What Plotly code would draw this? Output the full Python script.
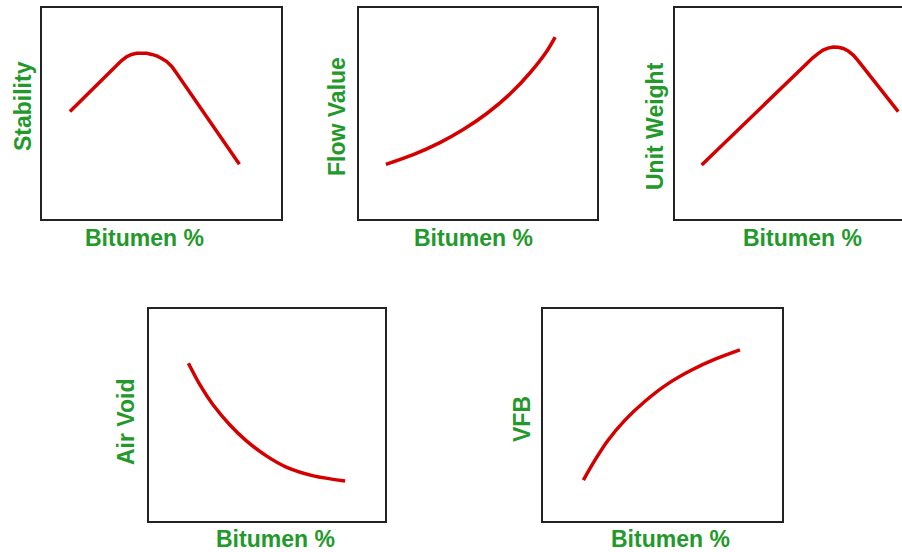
import plotly.graph_objects as go

W, H = 902, 552

# ---- data (relative units; 0-10 across each panel box) ----
stab_x = [1.17, 3.12, 3.33, 3.54, 3.75, 3.96, 4.17, 4.38, 4.59, 4.80, 5.01, 5.22, 5.43, 5.64, 8.26]
stab_y = [5.09, 7.30, 7.51, 7.69, 7.80, 7.85, 7.87, 7.85, 7.80, 7.73, 7.61, 7.46, 7.23, 6.90, 2.59]

flow_x = [1.13, 2.28, 3.40, 4.38, 5.37, 6.34, 7.18, 7.89, 8.24]
flow_y = [2.59, 3.05, 3.62, 4.24, 5.00, 5.92, 6.92, 7.95, 8.62]

unit_x = [1.12, 5.59, 5.80, 6.01, 6.22, 6.43, 6.64, 6.86, 7.07, 7.28, 7.49, 7.70, 9.38]
unit_y = [2.56, 7.44, 7.65, 7.84, 8.01, 8.10, 8.15, 8.14, 8.08, 7.96, 7.77, 7.49, 5.09]

air_x = [1.67, 2.16, 2.72, 3.43, 4.14, 4.99, 5.84, 6.97, 8.31]
air_y = [7.44, 6.42, 5.47, 4.53, 3.77, 3.06, 2.53, 2.13, 1.89]

vfb_x = [1.69, 2.18, 2.73, 3.43, 4.27, 5.25, 6.22, 7.20, 8.24]
vfb_y = [1.93, 2.88, 3.82, 4.76, 5.65, 6.49, 7.12, 7.63, 8.07]

y_titles = ["Stability", "Flow Value", "Unit Weight", "Air Void", "VFB"]
x_title = "Bitumen %"

GREEN = "#22992a"
RED = "#d40000"
FONT = "Liberation Sans, Arial, sans-serif"

# panel boxes in pixels: (left, right, top, bottom)
boxes = [(42, 281, 8, 219), (359, 597, 8, 219), (675, 913, 8, 219),
         (149, 385, 309, 521), (543, 782, 309, 521)]
series = [(stab_x, stab_y, "linear"), (flow_x, flow_y, "spline"),
          (unit_x, unit_y, "linear"), (air_x, air_y, "spline"),
          (vfb_x, vfb_y, "spline")]
xlab_pos = [(144, 238), (473, 238), (802, 238), (275, 539), (670, 539)]
ylab_pos = [(23, 106), (337, 117), (655, 126), (126, 422), (522, 419)]

fig = go.Figure()
layout = dict(width=W, height=H, margin=dict(l=0, r=0, t=0, b=0),
              paper_bgcolor="white", plot_bgcolor="white", showlegend=False)
annotations = []
for i, ((l, r, t, b), (xs, ys, shp)) in enumerate(zip(boxes, series)):
    n = "" if i == 0 else str(i + 1)
    rr = min(r, W)
    xmax = 10 * (rr - l) / (r - l)
    line = dict(color=RED, width=3.5, shape=shp)
    if shp == "spline":
        line["smoothing"] = 0.9
    fig.add_trace(go.Scatter(x=xs, y=ys, mode="lines", line=line,
                             xaxis="x" + n, yaxis="y" + n, hoverinfo="skip"))
    layout["xaxis" + n] = dict(domain=[l / W, rr / W], range=[0, xmax],
                               anchor="y" + n, showline=True, mirror=True,
                               linecolor="#222", linewidth=2, showgrid=False,
                               zeroline=False, showticklabels=False, ticks="")
    layout["yaxis" + n] = dict(domain=[1 - b / H, 1 - t / H], range=[0, 10],
                               anchor="x" + n, showline=True,
                               mirror=(r <= W), linecolor="#222", linewidth=2,
                               showgrid=False, zeroline=False,
                               showticklabels=False, ticks="")
    xl, yl = xlab_pos[i]
    annotations.append(dict(x=xl / W, y=1 - yl / H, xref="paper", yref="paper",
                            text="<b>" + x_title + "</b>", showarrow=False,
                            xanchor="center", yanchor="middle",
                            font=dict(family=FONT, size=23, color=GREEN)))
    xl, yl = ylab_pos[i]
    annotations.append(dict(x=xl / W, y=1 - yl / H, xref="paper", yref="paper",
                            text="<b>" + y_titles[i] + "</b>", showarrow=False,
                            textangle=-90, xanchor="center", yanchor="middle",
                            font=dict(family=FONT, size=23, color=GREEN)))
layout["annotations"] = annotations
fig.update_layout(**layout)
fig.write_html("out.html", config={"displayModeBar": False},
               post_script="document.body.style.margin='0';document.body.style.overflow='hidden';")
